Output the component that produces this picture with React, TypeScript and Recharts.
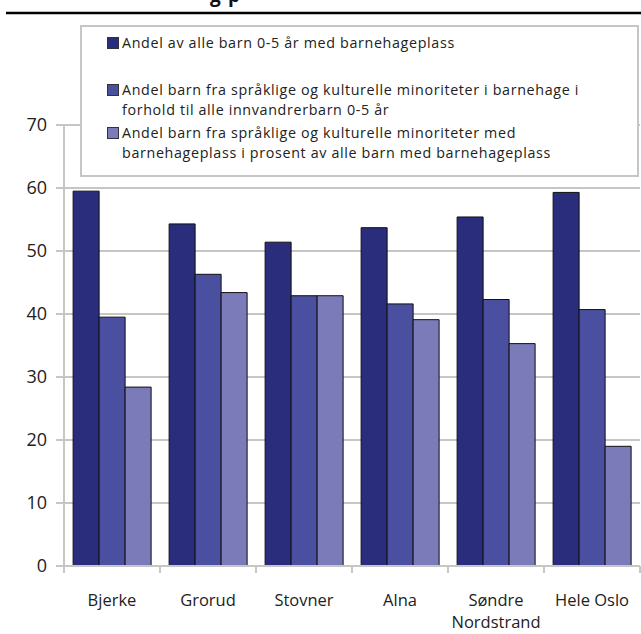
import React from 'react';
import { BarChart, Bar, XAxis, YAxis, CartesianGrid } from 'recharts';

const districts = ['Bjerke', 'Grorud', 'Stovner', 'Alna', 'Søndre Nordstrand', 'Hele Oslo'];
const allChildren = [59.5, 54.3, 51.4, 53.7, 55.4, 59.3];
const minorityOfImmigrant = [39.5, 46.3, 42.9, 41.6, 42.3, 40.7];
const minorityOfKindergarten = [28.4, 43.4, 42.9, 39.1, 35.3, 19.0];
const yTicks = [0, 10, 20, 30, 40, 50, 60, 70];

const seriesLabels = [
    ['Andel av alle barn 0-5 år med barnehageplass'],
    ['Andel barn fra språklige og kulturelle minoriteter i barnehage i', 'forhold til alle innvandrerbarn 0-5 år'],
    ['Andel barn fra språklige og kulturelle minoriteter med', 'barnehageplass i prosent av alle barn med barnehageplass'],
];
const COLORS = ['#2a2c7c', '#4b4f9f', '#7b7bba'];

const data = districts.map((d, i) => ({
    name: d,
    a: allChildren[i],
    b: minorityOfImmigrant[i],
    c: minorityOfKindergarten[i],
}));

const FONT = '"Open Sans", sans-serif';
const GRID = '#c6c6c6';
const BAND = (640 - 64) / districts.length;

function XTick(props: any) {
    const { x, y, payload, index } = props;
    const words = payload.value === 'Hele Oslo' ? [payload.value] : String(payload.value).split(' ');
    return (
        <g>
            <line x1={x - BAND / 2} x2={x - BAND / 2} y1={y - 8} y2={y - 1} stroke={GRID} strokeWidth={2} />
            {index === districts.length - 1 && (
                <line x1={x + BAND / 2} x2={x + BAND / 2} y1={y - 8} y2={y - 1} stroke={GRID} strokeWidth={2} />
            )}
            <text x={x} y={y + 32} textAnchor="middle" fontSize={16.5} fontFamily={FONT} fill="#222">
                {words.map((w, i) => (
                    <tspan key={w} x={x} dy={i === 0 ? 0 : 22}>{w}</tspan>
                ))}
            </text>
        </g>
    );
}

function LegendBox() {
    const tops = [6, 53, 96];
    return (
        <div style={{
            position: 'absolute', left: 80, top: 25, width: 559, height: 152, boxSizing: 'border-box',
            border: `2px solid ${GRID}`, background: '#fff', fontFamily: FONT, fontSize: 14.3,
            letterSpacing: '0.65px', color: '#222',
        }}>
            {seriesLabels.map((lines, i) => (
                <div key={i} style={{ position: 'absolute', left: 25, top: tops[i], lineHeight: '19.5px' }}>
                    <span style={{
                        position: 'absolute', left: 0, top: 4, width: 10, height: 10,
                        background: COLORS[i], border: '1px solid #333',
                    }} />
                    {lines.map((l) => (
                        <div key={l} style={{ marginLeft: 15, whiteSpace: 'nowrap' }}>{l}</div>
                    ))}
                </div>
            ))}
        </div>
    );
}

export default function App() {
    return (
        <div style={{ position: 'absolute', left: 0, top: 0, width: 641, height: 634, background: '#fff' }}>
            <div style={{ position: 'absolute', left: 0, top: 0 }}>
                <BarChart
                    width={641}
                    height={634}
                    data={data}
                    margin={{ top: 125, right: 1, bottom: 0, left: 0 }}
                    barCategoryGap="9.5%"
                    barGap={0}
                >
                    <CartesianGrid vertical={false} stroke={GRID} strokeWidth={2} />
                    <XAxis
                        dataKey="name"
                        height={68}
                        axisLine={{ stroke: GRID, strokeWidth: 2 }}
                        tickLine={false}
                        tick={<XTick />}
                        interval={0}
                    />
                    <YAxis
                        width={64}
                        domain={[0, 70]}
                        ticks={yTicks}
                        interval={0}
                        axisLine={{ stroke: GRID, strokeWidth: 2 }}
                        tickLine={{ stroke: GRID, strokeWidth: 2 }}
                        tickSize={8}
                        tickMargin={9}
                        tick={{ fontSize: 18, fontFamily: FONT, fill: '#222' }}
                    />
                    <Bar dataKey="a" fill={COLORS[0]} stroke="#111" strokeWidth={1} isAnimationActive={false} />
                    <Bar dataKey="b" fill={COLORS[1]} stroke="#111" strokeWidth={1} isAnimationActive={false} />
                    <Bar dataKey="c" fill={COLORS[2]} stroke="#111" strokeWidth={1} isAnimationActive={false} />
                </BarChart>
            </div>
            <LegendBox />
            <svg width={641} height={20} style={{ position: 'absolute', left: 0, top: 0 }}>
                <text y={2} fontSize={19} fontWeight="bold" fontFamily={FONT} fill="#111">
                    <tspan x={210}>g</tspan>
                    <tspan x={228}>p</tspan>
                </text>
                <line x1={6} x2={641} y1={13} y2={13} stroke="#000" strokeWidth={2.5} />
            </svg>
        </div>
    );
}
